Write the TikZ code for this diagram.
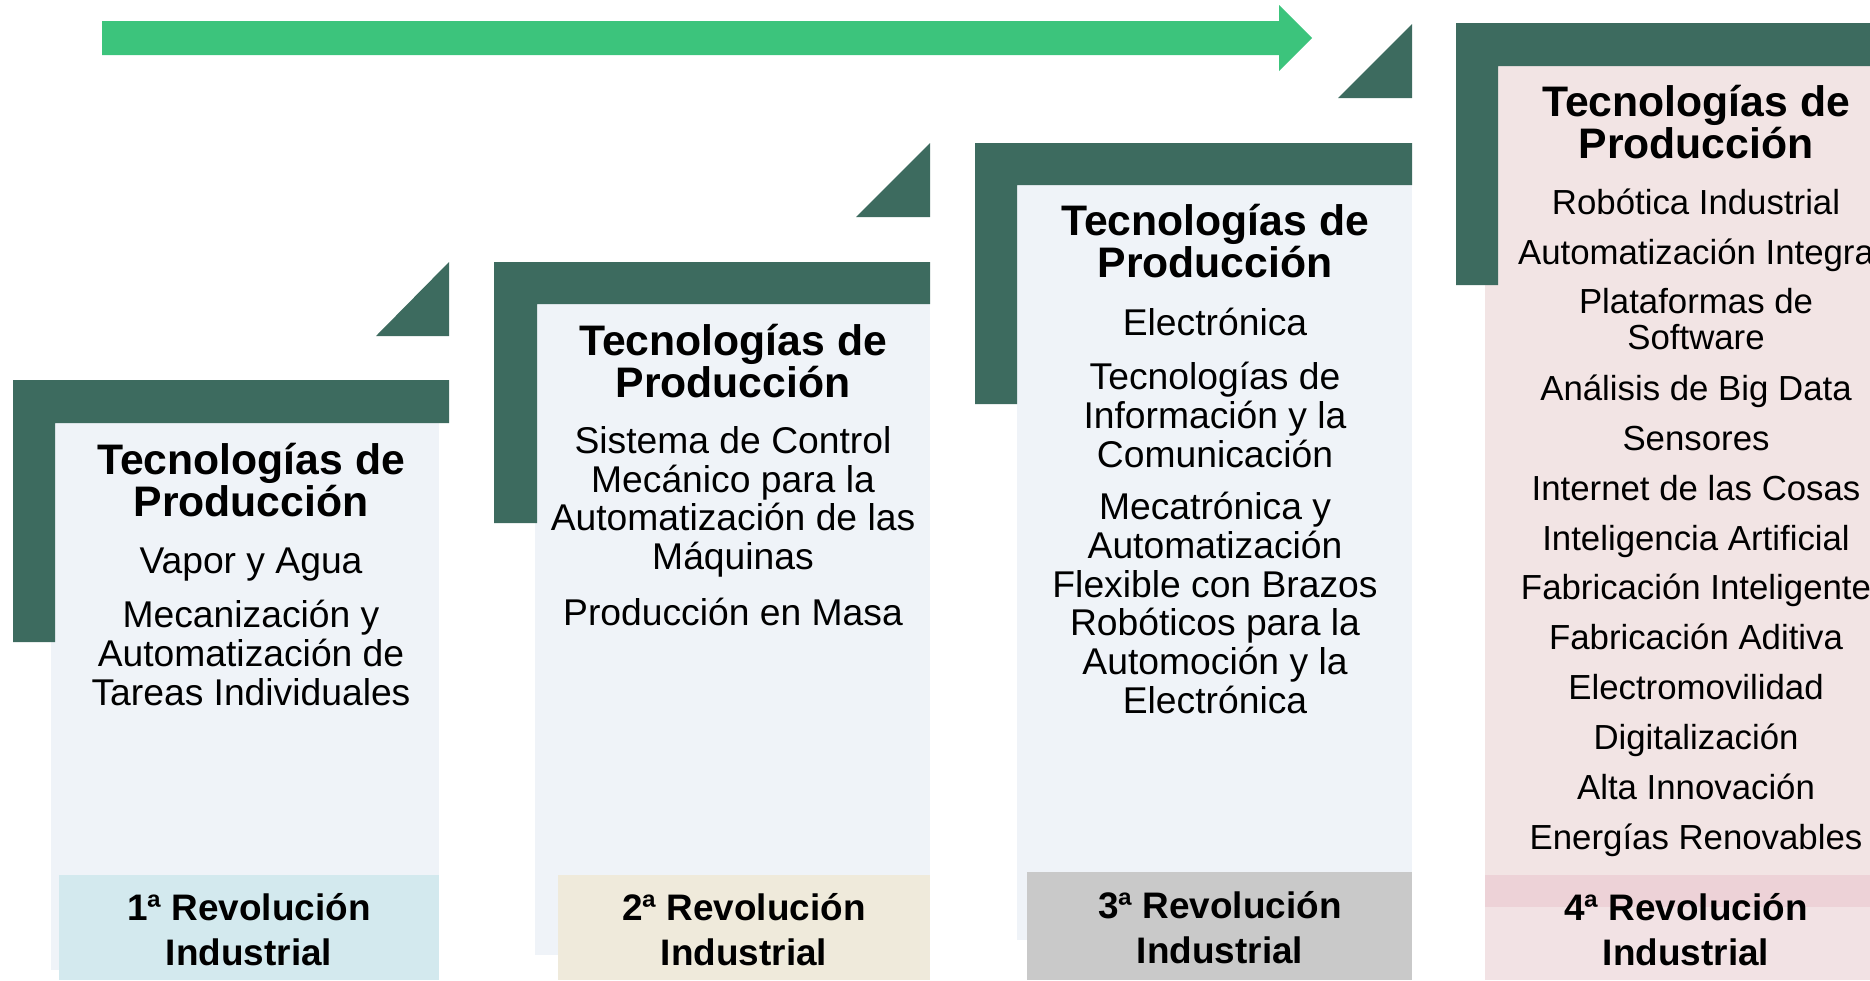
\documentclass[tikz,border=0pt]{standalone}
\usepackage{fontspec}
\setmainfont{Liberation Sans}
\definecolor{verdeosc}{HTML}{3D6B5F}
\definecolor{verdeflecha}{HTML}{3CC47C}
\definecolor{panelgris}{HTML}{EFF3F8}
\definecolor{panelrosa}{HTML}{F2E4E4}
\definecolor{revazul}{HTML}{D3E9EE}
\definecolor{revbeige}{HTML}{EFEADB}
\definecolor{revgris}{HTML}{C9C9C9}
\definecolor{revrosa}{HTML}{F2E2E4}
\definecolor{revrosaosc}{HTML}{EDD2D7}
\begin{document}
\begin{tikzpicture}[x=0.1mm,y=-0.1mm,
  titulo/.style={font=\bfseries\fontsize{12.15}{12.2}\selectfont,align=center,inner sep=0pt},
  texto/.style={font=\fontsize{10.6}{11}\selectfont,align=center,inner sep=0pt},
  linea/.style={texto,text height=7.7pt,text depth=0pt},
  texto4/.style={texto,font=\fontsize{9.9}{10.2}\selectfont},
  linea4/.style={texto4,text height=7.2pt,text depth=0pt},
  revol/.style={font=\bfseries\fontsize{10.5}{12.8}\selectfont,align=center,inner sep=0pt}]
\useasboundingbox (0,0) rectangle (1870,980);
% flecha superior
\fill[verdeflecha] (102,21) -- (1279,21) -- (1279,5) -- (1312,38) -- (1279,71) -- (1279,55) -- (102,55) -- cycle;
% escalones
\fill[verdeosc] (376,336) -- (449,336) -- (449,262) -- cycle;
\fill[verdeosc] (856,217) -- (930,217) -- (930,143) -- cycle;
\fill[verdeosc] (1338,98) -- (1412,98) -- (1412,24) -- cycle;
% 1a revolucion
\fill[panelgris] (51,423) rectangle (439,970);
\fill[verdeosc] (13,380) -- (449,380) -- (449,423) -- (55,423) -- (55,642) -- (13,642) -- cycle;
\fill[revazul] (59,875) rectangle (439,980);
\node[titulo] (tit1) at (251,480) {Tecnologías de\\Producción};
\node[linea] (vapor) at (251,560) {Vapor y Agua};
\node[texto] (mecaniz) at (251,653) {Mecanización y\\Automatización de\\Tareas Individuales};
\node[revol] (rev1) at (249,930) {1ª Revolución\\Industrial};
% 2a revolucion
\fill[panelgris] (535,304) rectangle (930,955);
\fill[verdeosc] (494,262) -- (930,262) -- (930,304) -- (537,304) -- (537,523) -- (494,523) -- cycle;
\fill[revbeige] (558,875) rectangle (930,980);
\node[titulo] (tit2) at (733,361) {Tecnologías de\\Producción};
\node[texto] (control) at (733,502) {Sistema de Control\\Mecánico para la\\Automatización de las\\Máquinas};
\node[linea] (masa) at (733,612) {Producción en Masa};
\node[revol] (rev2) at (744,930) {2ª Revolución\\Industrial};
% 3a revolucion
\fill[panelgris] (1017,185) rectangle (1412,940);
\fill[verdeosc] (975,143) -- (1412,143) -- (1412,185) -- (1017,185) -- (1017,404) -- (975,404) -- cycle;
\fill[revgris] (1027,872) rectangle (1412,980);
\node[titulo] (tit3) at (1215,241) {Tecnologías de\\Producción};
\node[linea] (electr) at (1215,322) {Electrónica};
\node[texto] (tic) at (1215,415) {Tecnologías de\\Información y la\\Comunicación};
\node[texto] (mecatr) at (1215,603) {Mecatrónica y\\Automatización\\Flexible con Brazos\\Robóticos para la\\Automoción y la\\Electrónica};
\node[revol] (rev3) at (1220,928) {3ª Revolución\\Industrial};
% 4a revolucion
\fill[panelrosa] (1485,66) rectangle (1870,980);
\fill[verdeosc] (1456,23) -- (1870,23) -- (1870,66) -- (1498,66) -- (1498,285) -- (1456,285) -- cycle;
\fill[revrosa] (1485,875) rectangle (1870,980);
\fill[revrosaosc] (1485,875) rectangle (1870,907);
\node[titulo] (tit4) at (1696,122) {Tecnologías de\\Producción};
\node[linea4] (robot) at (1696,202) {Robótica Industrial};
\node[linea4] (autoint) at (1696,252) {Automatización Integra};
\node[texto4] (plataf) at (1696,319) {Plataformas de\\Software};
\node[linea4] (bigdata) at (1696,388) {Análisis de Big Data};
\node[linea4] (sensor) at (1696,438) {Sensores};
\node[linea4] (iot) at (1696,488) {Internet de las Cosas};
\node[linea4] (ia) at (1696,538) {Inteligencia Artificial};
\node[linea4] (fabint) at (1696,587) {Fabricación Inteligente};
\node[linea4] (fabad) at (1696,637) {Fabricación Aditiva};
\node[linea4] (emov) at (1696,687) {Electromovilidad};
\node[linea4] (digit) at (1696,737) {Digitalización};
\node[linea4] (innov) at (1696,787) {Alta Innovación};
\node[linea4] (renov) at (1696,837) {Energías Renovables};
\node[revol] (rev4) at (1686,930) {4ª Revolución\\Industrial};
\end{tikzpicture}
\end{document}
